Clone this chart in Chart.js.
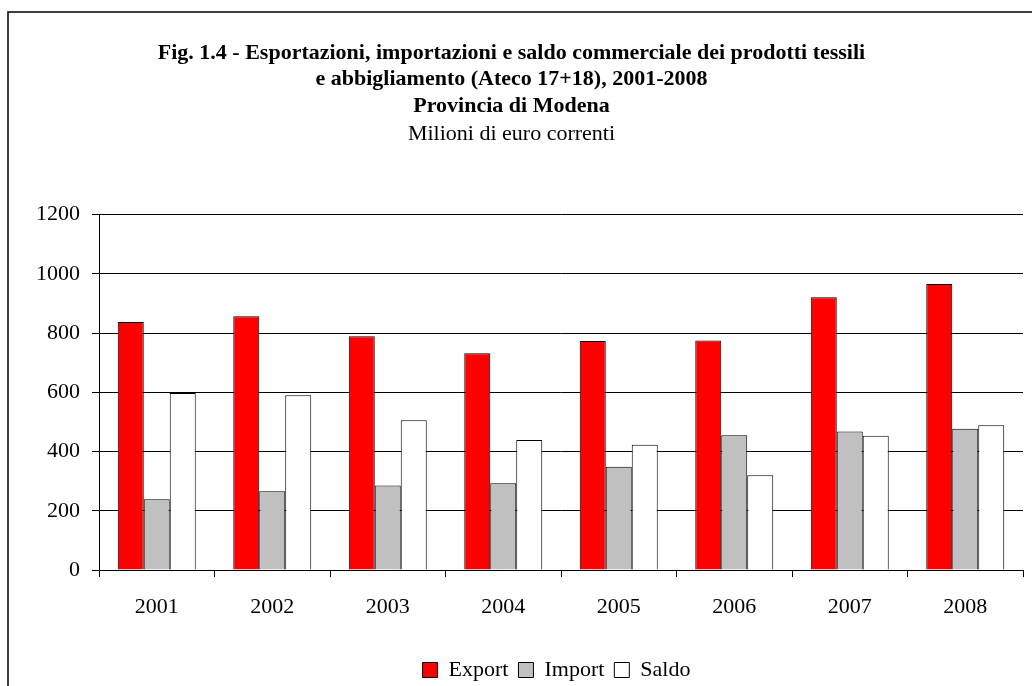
<!DOCTYPE html>
<html>
<head>
<meta charset="utf-8">
<script src="https://cdn.jsdelivr.net/npm/chart.js@4.4.1/dist/chart.umd.min.js"></script>
<style>
html,body{margin:0;padding:0;background:#fff;}
#wrap{width:1032px;height:686px;position:relative;}
</style>
</head>
<body>
<div id="wrap"><canvas id="c" width="1032" height="686"></canvas></div>
<script>
const years = ['2001','2002','2003','2004','2005','2006','2007','2008'];
const exportVals = [837, 857, 789, 732, 773, 775, 921, 966];
const importVals = [239, 266, 285, 293, 349, 455, 468, 477];
const saldoVals  = [598, 590, 506, 439, 423, 320, 453, 489];
const yTicks = [0, 200, 400, 600, 800, 1000, 1200];
const titleLines = ['Fig. 1.4 - Esportazioni, importazioni e saldo commerciale dei prodotti tessili',
                    'e abbigliamento (Ateco 17+18), 2001-2008',
                    'Provincia di Modena'];
const subtitleText = 'Milioni di euro correnti';

const FONT = "'Liberation Serif', 'Times New Roman', serif";

const borderPlugin = {
  id: 'frame',
  beforeDraw(chart) {
    const ctx = chart.ctx;
    ctx.save();
    ctx.fillStyle = '#fff';
    ctx.fillRect(0, 0, chart.width, chart.height);
    ctx.strokeStyle = '#000';
    ctx.lineWidth = 1.5;
    ctx.strokeRect(8, 12, chart.width + 20, chart.height + 20);
    ctx.restore();
  },
  afterLayout(chart) {
    const lg = chart.legend;
    if (lg) {
      lg.left += 45;
      lg.right += 45;
      lg.top += 5;
      lg.bottom += 5;
    }
  }
};

new Chart(document.getElementById('c'), {
  type: 'bar',
  data: {
    labels: years,
    datasets: [
      {label: 'Export', data: exportVals, backgroundColor: '#FF0000', borderColor: '#000', borderWidth: 1},
      {label: 'Import', data: importVals, backgroundColor: '#C0C0C0', borderColor: '#000', borderWidth: 1},
      {label: 'Saldo',  data: saldoVals,  backgroundColor: '#FFFFFF', borderColor: '#000', borderWidth: 1}
    ]
  },
  options: {
    responsive: false,
    animation: false,
    devicePixelRatio: 1,
    layout: {padding: {left: 0, right: 9, top: 0, bottom: 0}},
    datasets: {bar: {categoryPercentage: 0.675, barPercentage: 1.0}},
    plugins: {
      title: {
        display: true,
        text: titleLines,
        color: '#000',
        font: {family: FONT, size: 22, weight: 'bold', lineHeight: 1.2},
        padding: {top: 40, bottom: 0}
      },
      subtitle: {
        display: true,
        text: subtitleText,
        color: '#000',
        font: {family: FONT, size: 22, weight: 'normal', lineHeight: 1.2},
        padding: {top: 2, bottom: 67}
      },
      legend: {
        position: 'bottom',
        labels: {
          color: '#000',
          font: {family: FONT, size: 22},
          boxWidth: 15,
          boxHeight: 15,
          padding: 10,
          useBorderRadius: false
        }
      },
      tooltip: {enabled: false}
    },
    scales: {
      x: {
        offset: true,
        grid: {display: true, offset: true, drawOnChartArea: false, drawTicks: true, tickLength: 7, color: '#000'},
        border: {display: true, color: '#000', width: 1},
        ticks: {color: '#000', font: {family: FONT, size: 22}, padding: 17, maxRotation: 0},
        afterFit(scale) { scale.height = 74; }
      },
      y: {
        min: 0,
        max: 1200,
        afterBuildTicks(scale) { scale.ticks = yTicks.map(v => ({value: v})); },
        grid: {color: '#000', lineWidth: 1, drawTicks: true, tickLength: 7},
        border: {display: true, color: '#000', width: 1},
        ticks: {color: '#000', font: {family: FONT, size: 22}, padding: 12, callback: v => String(v)},
        afterFit(scale) { scale.width = 99; }
      }
    }
  },
  plugins: [borderPlugin]
});
</script>
</body>
</html>
